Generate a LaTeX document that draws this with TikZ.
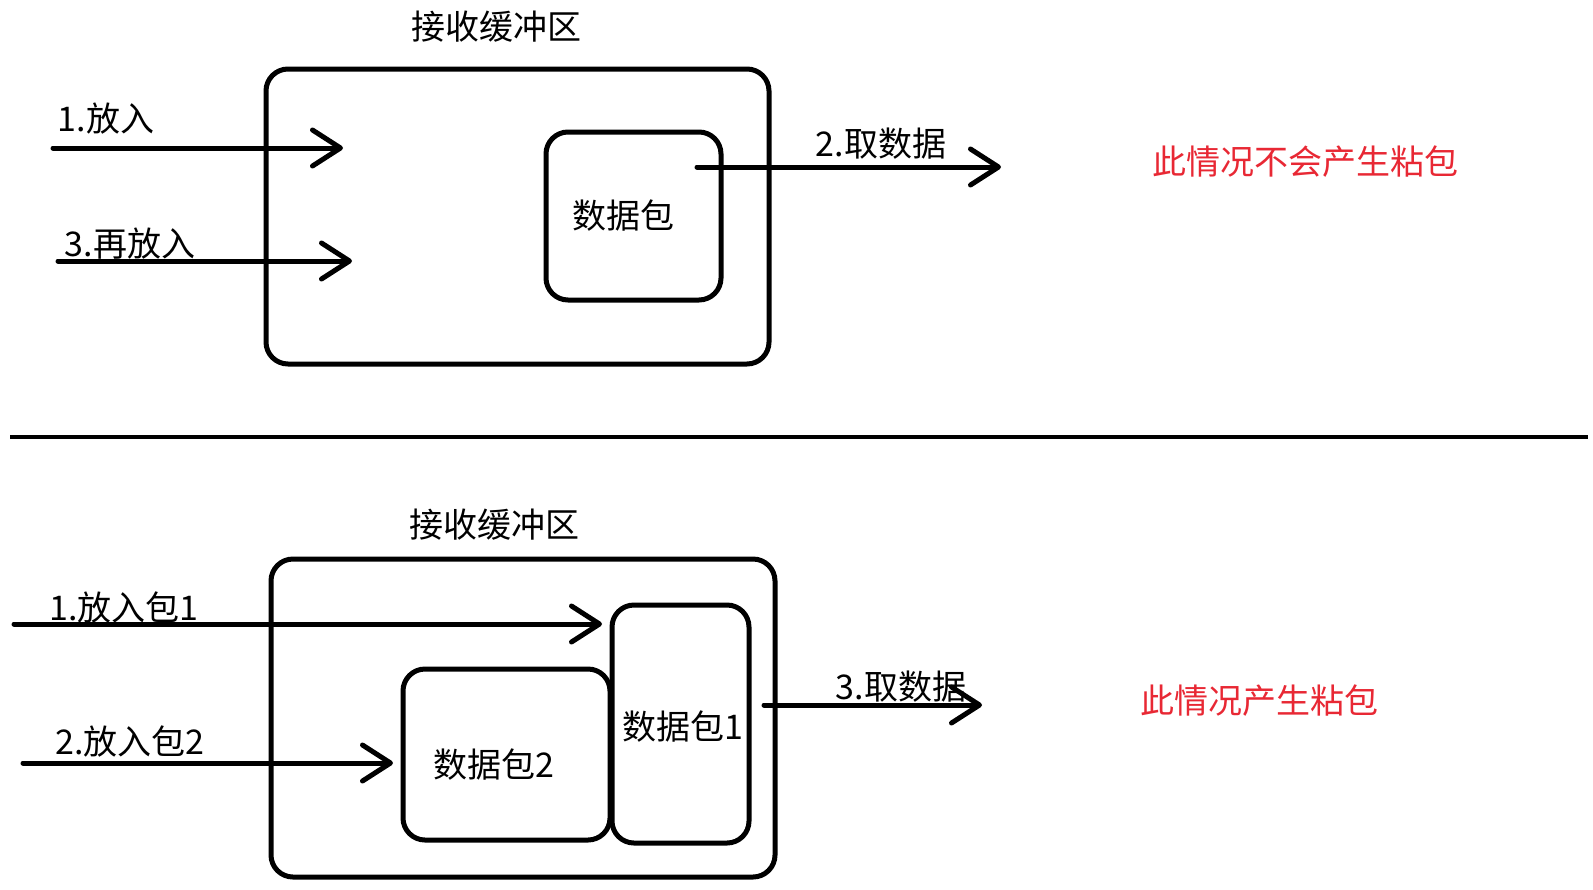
\documentclass[tikz,border=0pt]{standalone}
\usepackage{fontspec}
\setmainfont{Noto Sans CJK SC}
\usetikzlibrary{arrows.meta}
\definecolor{warnred}{RGB}{232,40,52}
\tikzset{
  thick line/.style={line width=2.5pt, line cap=round, line join=round},
  bufbox/.style={draw, thick line, rounded corners=11pt, inner sep=0pt},
  pktbox/.style={draw, thick line, rounded corners=11pt, inner sep=0pt, font=\fontsize{17pt}{20pt}\selectfont},
  lbl/.style={inner sep=0pt, font=\fontsize{17pt}{20pt}\selectfont},
  note/.style={inner sep=0pt, text=warnred, font=\fontsize{17pt}{20pt}\selectfont},
  flow/.style={thick line, -{Straight Barb[length=14pt,width=18pt,line cap=round,line join=round]}},
}
\begin{document}
\begin{tikzpicture}[x=0.5pt,y=-0.5pt]
\useasboundingbox (0,0) rectangle (1593,889);
% ---------- top part ----------
\node[lbl] (title1) at (496,27) {接收缓冲区};
\node[bufbox, minimum width=251.5pt, minimum height=147.5pt] (buf1) at (517.5,216.5) {};
\node[pktbox, minimum width=87.5pt, minimum height=84pt] (pkt) at (633.5,216) {};
\node[lbl] (pkttxt) at (623,216) {数据包};
\coordinate (a1s) at (53,148);
\coordinate (a1e) at (343,148);
\coordinate (a3s) at (58,261);
\coordinate (a3e) at (352,261);
\coordinate (a2s) at (697,167);
\coordinate (a2e) at (1001,167);
\draw[flow] (a1s) -- (a1e);
\draw[flow] (a3s) -- (a3e);
\draw[flow] (a2s) -- (a2e);
\node[lbl] (l1) at (106,119) {1.放入};
\node[lbl] (l3) at (130,244) {3.再放入};
\node[lbl] (l2) at (881,144) {2.取数据};
\node[note] (n1) at (1305,162) {此情况不会产生粘包};
% ---------- separator ----------
\coordinate (sepL) at (10,437);
\coordinate (sepR) at (1588,437);
\draw[line width=2pt] (sepL) -- (sepR);
% ---------- bottom part ----------
\node[lbl] (title2) at (494,525) {接收缓冲区};
\node[bufbox, minimum width=252pt, minimum height=159pt] (buf2) at (523,718) {};
\node[pktbox, minimum width=68.5pt, minimum height=119pt] (pk1) at (680.5,724) {};
\node[pktbox, minimum width=103.5pt, minimum height=85.5pt] (pk2) at (506.5,754.5) {};
\node[lbl] (pk1txt) at (683,727) {数据包1};
\node[lbl] (pk2txt) at (494,765) {数据包2};
\coordinate (b1s) at (14,624);
\coordinate (b1e) at (602,624);
\coordinate (b2s) at (23,763);
\coordinate (b2e) at (393,763);
\coordinate (b3s) at (764,705);
\coordinate (b3e) at (982,705);
\draw[flow] (b1s) -- (b1e);
\draw[flow] (b2s) -- (b2e);
\draw[flow] (b3s) -- (b3e);
\node[lbl] (m1) at (124,608) {1.放入包1};
\node[lbl] (m2) at (130,742) {2.放入包2};
\node[lbl] (m3) at (901,687) {3.取数据};
\node[note] (n2) at (1259,701) {此情况产生粘包};
\end{tikzpicture}
\end{document}
